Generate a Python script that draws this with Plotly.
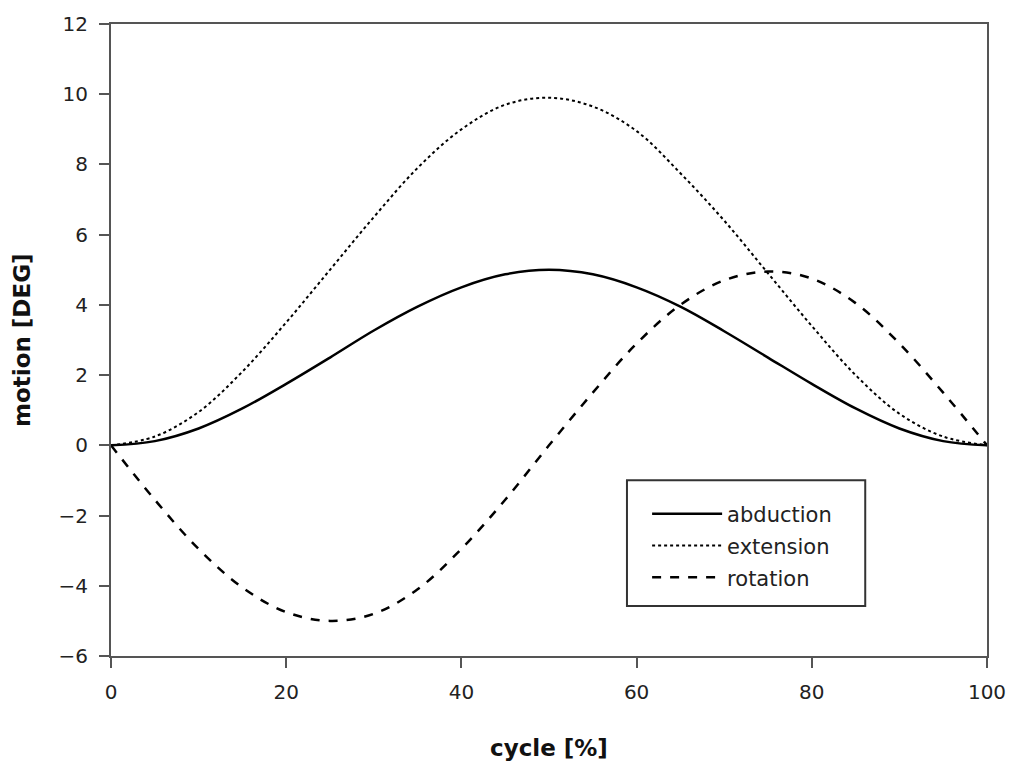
import plotly.graph_objects as go

cycle = [0, 5, 10, 15, 20, 25, 30, 35, 40, 45, 50, 55, 60, 65, 70, 75, 80, 85, 90, 95, 100]
abduction = [0, 0.12, 0.48, 1.05, 1.75, 2.5, 3.27, 3.95, 4.5, 4.87, 5.0, 4.87, 4.5, 3.95, 3.25, 2.5, 1.75, 1.05, 0.48, 0.12, 0]
extension = [0, 0.25, 0.95, 2.1, 3.5, 5.0, 6.5, 7.9, 9.0, 9.7, 9.9, 9.65, 8.95, 7.75, 6.4, 4.9, 3.4, 2.0, 0.9, 0.25, 0]
rotation = [0, -1.55, -2.95, -4.05, -4.75, -5.0, -4.8, -4.1, -2.95, -1.55, 0.0, 1.5, 2.9, 4.0, 4.7, 4.95, 4.75, 4.05, 2.9, 1.5, 0]

x_title = "cycle [%]"
y_title = "motion [DEG]"

FONT = "DejaVu Sans"

fig = go.Figure()
fig.add_trace(go.Scatter(x=cycle, y=abduction, mode="lines", name="abduction", legendgroup="a",
                         line=dict(color="black", width=2.5, dash="solid", shape="spline")))
fig.add_trace(go.Scatter(x=cycle, y=extension, mode="lines", name="extension", legendgroup="b",
                         line=dict(color="black", width=2, dash="dot", shape="spline")))
fig.add_trace(go.Scatter(x=cycle, y=rotation, mode="lines", name="rotation", legendgroup="c",
                         line=dict(color="black", width=2.5, dash="dash", shape="spline")))

# legend frame
fig.add_shape(type="rect", xref="paper", yref="paper",
              x0=0.589, x1=0.861, y0=0.079, y1=0.278,
              line=dict(color="#333", width=2), fillcolor="rgba(0,0,0,0)", layer="above")

# axis titles
fig.add_annotation(text="<b>" + x_title + "</b>", xref="paper", yref="paper",
                   x=0.5, y=-0.1456, xanchor="center", yanchor="middle", showarrow=False,
                   font=dict(family=FONT, size=23, color="#111"))
fig.add_annotation(text="<b>" + y_title + "</b>", xref="paper", yref="paper",
                   x=-0.1016, y=0.5, xanchor="center", yanchor="middle", showarrow=False,
                   textangle=-90, font=dict(family=FONT, size=23, color="#111"))

fig.update_layout(
    width=1015, height=762,
    margin=dict(l=111, r=28, t=24, b=106),
    paper_bgcolor="white", plot_bgcolor="white",
    font=dict(family=FONT, size=20, color="#222"),
    showlegend=True,
    legend=dict(x=0.612, y=0.257, xanchor="left", yanchor="top",
                bgcolor="rgba(0,0,0,0)", borderwidth=0,
                font=dict(family=FONT, size=21, color="#222"),
                itemwidth=70, tracegroupgap=1.5),
)
fig.update_xaxes(range=[0, 100], dtick=20, tick0=0, automargin=False,
                 showgrid=False, zeroline=False,
                 showline=True, linecolor="#555", linewidth=2, mirror=True,
                 ticks="outside", ticklen=10, tickwidth=2, tickcolor="#555",
                 ticklabelstandoff=7)
fig.update_yaxes(range=[-6, 12], dtick=2, tick0=0, automargin=False,
                 showgrid=False, zeroline=False,
                 showline=True, linecolor="#555", linewidth=2, mirror=True,
                 ticks="outside", ticklen=10, tickwidth=2, tickcolor="#555",
                 ticklabelstandoff=7)

fig.write_html("out.html")
